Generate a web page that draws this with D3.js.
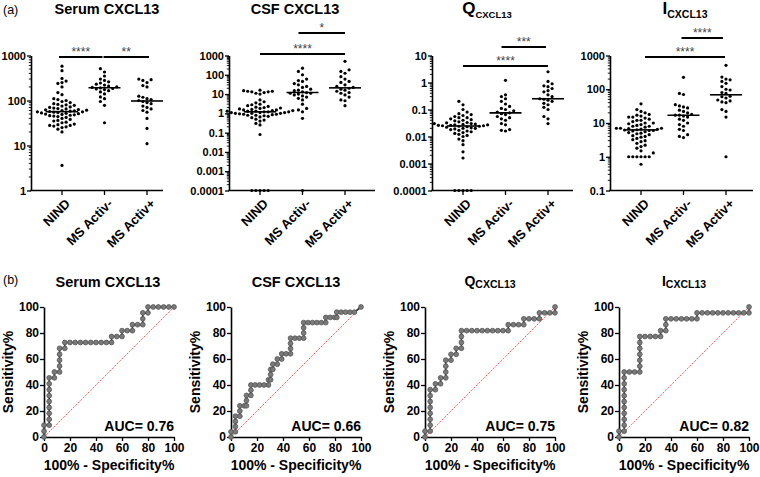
<!DOCTYPE html>
<html><head><meta charset="utf-8">
<script src="https://cdn.jsdelivr.net/npm/d3@7"></script>
<style>
body{margin:0;background:#fff}
svg{display:block;font-family:"Liberation Sans",Arial,Helvetica,sans-serif}
</style>
</head><body>
<svg id="chart" width="760" height="477"></svg>
<script>
// ---------------- DATA ----------------
const categories = ["NIND", "MS Activ-", "MS Activ+"];

// Serum CXCL13
const serumNIND = [580,460,310,270,250,240,200,150,135,110,105,100,95,90,85,82,80,78,75,72,70,68,66,65,63,62,61,60,59,58,57,56,56,55,54,53,52,51,50,49,48,47,46,45,44,42,40,38,36,35,33,32,30,29,28,28,27,26,25,23,20,3.6];
const serumActivMinus = [510,430,350,300,280,260,245,230,220,210,200,195,190,185,180,175,165,155,140,120,110,95,78,32];
const serumActivPlus = [300,290,280,250,215,200,125,118,110,105,100,95,90,85,75,70,65,60,55,40,24,11];

// CSF CXCL13
const csfNIND = [16,15,14,14,13,13,12,11,10,5,4,3.5,3,2.8,2.5,2.3,2.1,2,1.9,1.8,1.7,1.6,1.5,1.5,1.4,1.4,1.3,1.3,1.3,1.2,1.2,1.2,1.1,1.1,1.1,1.0,1.0,1.0,0.95,0.9,0.9,0.85,0.8,0.8,0.75,0.7,0.65,0.6,0.5,0.45,0.4,0.3,0.25,0.08,0.0001,0.0001,0.0001,0.0001,0.0001];
const csfActivMinus = [220,150,100,60,50,45,35,30,25,22,18,16,15,13,12,11,11,10,9,8,7,6,5,3,1.8,1.5,1.2,0.55,0.0001];
const csfActivPlus = [500,180,150,120,80,60,45,40,30,25,22,20,18,16,14,12,11,9,7,5,4.5,2.5];

// Q CXCL13
const qNIND = [0.2,0.15,0.1,0.08,0.07,0.065,0.06,0.055,0.05,0.05,0.045,0.042,0.04,0.038,0.035,0.033,0.032,0.03,0.03,0.029,0.028,0.027,0.027,0.026,0.026,0.025,0.025,0.024,0.024,0.023,0.022,0.021,0.02,0.02,0.019,0.018,0.017,0.016,0.015,0.014,0.013,0.012,0.011,0.01,0.008,0.007,0.005,0.0027,0.0016,0.0001,0.0001,0.0001,0.0001,0.0001];
const qActivMinus = [1.2,0.35,0.3,0.25,0.2,0.16,0.13,0.11,0.1,0.09,0.08,0.075,0.07,0.065,0.055,0.05,0.045,0.04,0.03,0.027,0.018,0.017,0.016];
const qActivPlus = [2.5,1.1,0.9,0.75,0.7,0.6,0.5,0.45,0.35,0.3,0.25,0.24,0.22,0.2,0.17,0.15,0.12,0.1,0.055,0.045,0.03];

// I CXCL13
const iNIND = [37,25,22,20,18,17,16,15,15,14,13,12,12,11,10,10,9.5,9,8.5,8,8,7.5,7,7,7,6.8,6.6,6.5,6.3,6.2,6,6,5.8,5.5,5.2,5,4.8,4.5,4.2,4,3.8,3.5,3.2,3,2.8,2.5,2.2,2,1.8,1.5,1.3,1,1,1,1,1,1,0.6];
const iActivMinus = [225,75,70,35,32,30,28,24,22,20,18,17,17,16,15,13,12,10,9,8,6.5,6,4.5,4,3.7];
const iActivPlus = [510,230,200,190,170,150,120,100,95,80,75,62,60,55,48,45,42,40,25,22,15,1];

// y tick values
const serumTicks = [1,10,100,1000];
const csfTicks = [0.0001,0.001,0.01,0.1,1,10,100,1000];
const qTicks = [0.0001,0.001,0.01,0.1,1,10];
const iTicks = [0.1,1,10,100,1000];

// significance annotations
const serumSig = [{from:"NIND",to:"MS Activ-",label:"****"},{from:"MS Activ-",to:"MS Activ+",label:"**"}];
const csfSig = [{from:"MS Activ-",to:"MS Activ+",label:"*"},{from:"NIND",to:"MS Activ+",label:"****"}];
const qSig = [{from:"MS Activ-",to:"MS Activ+",label:"***"},{from:"NIND",to:"MS Activ+",label:"****"}];
const iSig = [{from:"MS Activ-",to:"MS Activ+",label:"****"},{from:"NIND",to:"MS Activ+",label:"****"}];

// ROC curves: [100% - Specificity%, Sensitivity%]
const rocSerum = [[0,0],[0,4.5],[0,9.1],[4,9.1],[4,13.6],[4,18.2],[4,22.7],[4,27.3],[4,31.8],[4,36.4],[4,40.9],[4,45.5],[8,45.5],[8,50],[12,50],[12,54.5],[12,59.1],[12,63.6],[12,68.2],[16,68.2],[16,72.7],[20,72.7],[24,72.7],[28,72.7],[32,72.7],[36,72.7],[40,72.7],[44,72.7],[48,72.7],[52,72.7],[52,77.3],[56,77.3],[60,77.3],[60,81.8],[64,81.8],[68,81.8],[68,86.4],[72,86.4],[76,86.4],[76,90.9],[76,95.5],[80,95.5],[80,100],[84,100],[88,100],[92,100],[96,100],[100,100]];
const rocCSF = [[0,0],[0,4],[3.4,4],[3.4,8],[3.4,12],[3.4,16],[6.8,16],[6.8,20],[6.8,24],[10.2,24],[11.9,24],[11.9,28],[11.9,32],[15.3,32],[15.3,36],[15.3,40],[18.6,40],[22,40],[25.4,40],[28.8,40],[28.8,44],[30.5,44],[30.5,48],[30.5,52],[32.2,52],[32.2,56],[35.6,56],[35.6,60],[39,60],[39,64],[42.4,64],[45.8,64],[45.8,68],[45.8,72],[45.8,76],[49.2,76],[52.5,76],[55.9,76],[55.9,80],[55.9,84],[55.9,88],[59.3,88],[62.7,88],[66.1,88],[69.5,88],[72.9,88],[72.9,92],[76.3,92],[79.7,92],[81.4,92],[81.4,96],[84.7,96],[88.1,96],[91.5,96],[94.9,96],[100,100]];
const rocQ = [[0,0],[0,4.5],[4,4.5],[4,9.1],[4,13.6],[4,18.2],[4,22.7],[4,27.3],[4,31.8],[4,36.4],[8,36.4],[8,40.9],[12,40.9],[12,45.5],[16,45.5],[16,50],[16,54.5],[16,59.1],[20,59.1],[20,63.6],[24,63.6],[24,68.2],[28,68.2],[28,72.7],[28,77.3],[28,81.8],[32,81.8],[36,81.8],[40,81.8],[44,81.8],[48,81.8],[52,81.8],[56,81.8],[60,81.8],[64,81.8],[64,86.4],[68,86.4],[72,86.4],[76,86.4],[76,90.9],[80,90.9],[84,90.9],[88,90.9],[88,95.5],[92,95.5],[96,95.5],[100,95.5],[100,100]];
const rocI = [[0,0],[0,4.5],[4,4.5],[4,9.1],[4,13.6],[4,18.2],[4,22.7],[4,27.3],[4,31.8],[4,36.4],[4,40.9],[4,45.5],[4,50],[8,50],[12,50],[16,50],[16,54.5],[16,59.1],[16,63.6],[16,68.2],[16,72.7],[16,77.3],[20,77.3],[24,77.3],[28,77.3],[32,77.3],[32,81.8],[36,81.8],[36,86.4],[36,90.9],[40,90.9],[44,90.9],[48,90.9],[52,90.9],[56,90.9],[60,90.9],[60,95.5],[64,95.5],[68,95.5],[72,95.5],[76,95.5],[80,95.5],[84,95.5],[88,95.5],[92,95.5],[96,95.5],[100,95.5],[100,100]];
const aucLabels = ["AUC= 0.76","AUC= 0.66","AUC= 0.75","AUC= 0.82"];
const rocTicks = [0,20,40,60,80,100];

// titles: [main, subscript]
const titles = [["Serum CXCL13",""],["CSF CXCL13",""],["Q","CXCL13"],["I","CXCL13"]];

// ---------------- LAYOUT ----------------
const svg = d3.select("#chart");
const FONT = '"Liberation Sans",Arial,Helvetica,sans-serif';
const topPanels = [
  {data:[serumNIND,serumActivMinus,serumActivPlus], ticks:serumTicks, sig:serumSig},
  {data:[csfNIND,csfActivMinus,csfActivPlus], ticks:csfTicks, sig:csfSig},
  {data:[qNIND,qActivMinus,qActivPlus], ticks:qTicks, sig:qSig},
  {data:[iNIND,iActivMinus,iActivPlus], ticks:iTicks, sig:iSig}
];
const topLayout = [
  {ax:31, xLen:132, bars:[{y:57,pad:[3,-2]},{y:57,pad:[1,2]}], tx:107},
  {ax:229, xLen:146, bars:[{y:33,pad:[4,0]},{y:54,pad:[0,0]}], tx:295},
  {ax:432, xLen:141, bars:[{y:47,pad:[4,-2]},{y:66,pad:[0,0]}], tx:487},
  {ax:610, xLen:143, bars:[{y:38,pad:[2,-3]},{y:57,pad:[-4,-1]}], tx:685}
];
const TOP_Y0 = 190.5, TOP_Y1 = 55.5;
const R = 1.6;

function drawTitle(g, t, cx, cy, mainSize, subSize, subDy) {
  const txt = g.append("text").attr("x", cx).attr("y", cy).attr("text-anchor","middle")
    .attr("font-weight","bold").attr("font-family",FONT).attr("fill","#000");
  txt.append("tspan").attr("font-size", mainSize).text(t[0]);
  if (t[1]) txt.append("tspan").attr("font-size", subSize).attr("dy", subDy).text(t[1]);
}

svg.append("text").attr("x",3).attr("y",14).attr("font-size",12.5).attr("font-family",FONT).text("(a)");
svg.append("text").attr("x",3).attr("y",284).attr("font-size",12.5).attr("font-family",FONT).text("(b)");

topPanels.forEach((p, i) => {
  const L = topLayout[i];
  const g = svg.append("g");
  const y = d3.scaleLog().domain([p.ticks[0], p.ticks[p.ticks.length-1]]).range([TOP_Y0, TOP_Y1]);
  const x = d3.scalePoint().domain(categories).range([L.ax+31, L.ax+116]);

  if (titles[i][1]) drawTitle(g, titles[i], L.tx, 14, 17, i===2?9.5:10.5, 4);
  else drawTitle(g, titles[i], L.tx, 14, 14.5, 0, 0);

  const ya = g.append("g").attr("transform",`translate(${L.ax},0)`)
    .call(d3.axisLeft(y).tickValues(p.ticks).tickFormat(d => String(d)).tickSize(4).tickSizeOuter(0).tickPadding(1));
  ya.select(".domain").attr("stroke","#000").attr("stroke-width",1.6);
  ya.selectAll(".tick line").attr("stroke","#000").attr("stroke-width",1.3);
  ya.selectAll(".tick text").attr("font-size",11).attr("font-weight","bold").attr("font-family",FONT).attr("fill","#000");
  const minors = [];
  for (let k = 0; k < p.ticks.length-1; k++) for (let m = 2; m <= 9; m++) minors.push(p.ticks[k]*m);
  g.selectAll(null).data(minors).join("line")
    .attr("x1", L.ax-2.2).attr("x2", L.ax).attr("y1", d => y(d)).attr("y2", d => y(d))
    .attr("stroke","#000").attr("stroke-width",0.9);

  g.append("line").attr("x1",L.ax-0.8).attr("x2",L.ax+L.xLen).attr("y1",TOP_Y0).attr("y2",TOP_Y0)
    .attr("stroke","#000").attr("stroke-width",1.6);
  g.selectAll(null).data(categories).join("line")
    .attr("x1", d => x(d)).attr("x2", d => x(d)).attr("y1",TOP_Y0).attr("y2",TOP_Y0+4.5)
    .attr("stroke","#000").attr("stroke-width",1.3);
  g.selectAll(null).data(categories).join("text")
    .attr("transform", d => `translate(${x(d)+9},${TOP_Y0+14}) rotate(-45)`)
    .attr("text-anchor","end").attr("font-size",13).attr("font-weight","bold").attr("font-family",FONT)
    .attr("fill","#000").text(d => d);

  p.data.forEach((vals, ci) => {
    const cx = x(categories[ci]);
    const pts = vals.map(v => ({v, y: y(v)})).sort((a,b) => b.y - a.y);
    const placed = [];
    const dx = 2*R + 0.9;
    pts.forEach(pt => {
      for (let k = 0; k < 40; k++) {
        const off = (k % 2 === 0 ? 1 : -1) * Math.ceil(k/2) * dx;
        const px = cx + off;
        const hit = placed.some(q => Math.hypot(q.x - px, q.y - pt.y) < 2*R + 0.7);
        if (!hit) { pt.x = px; placed.push(pt); break; }
      }
    });
    g.selectAll(null).data(placed).join("circle")
      .attr("cx", d => d.x).attr("cy", d => d.y).attr("r", R).attr("fill","#000");
    const med = d3.median(vals);
    g.append("line").attr("x1",cx-16).attr("x2",cx+16).attr("y1",y(med)).attr("y2",y(med))
      .attr("stroke","#000").attr("stroke-width",1.6);
  });

  p.sig.forEach((s, si) => {
    const b = L.bars[si];
    const x1 = x(s.from) - b.pad[0], x2 = x(s.to) + b.pad[1];
    g.append("line").attr("x1",x1).attr("x2",x2).attr("y1",b.y).attr("y2",b.y)
      .attr("stroke","#000").attr("stroke-width",2);
    g.append("text").attr("x",(x1+x2)/2).attr("y",b.y-1.5).attr("text-anchor","middle")
      .attr("font-size",12).attr("font-family",FONT).attr("fill","#444").text(s.label);
  });
});

// ---------------- ROC ----------------
const rocData = [rocSerum, rocCSF, rocQ, rocI];
const rocAx = [44, 231, 425, 619];
const rocTitleX = [108, 296, 490, 684];
const RY0 = 437, RY1 = 307, RW = 130;

rocData.forEach((pts, i) => {
  const ax = rocAx[i];
  const g = svg.append("g");
  const x = d3.scaleLinear().domain([0,100]).range([ax, ax+RW]);
  const y = d3.scaleLinear().domain([0,100]).range([RY0, RY1]);

  if (titles[i][1]) drawTitle(g, titles[i], rocTitleX[i], 286, 14, 10.5, 2);
  else drawTitle(g, titles[i], rocTitleX[i], 287, 14.5, 0, 0);

  // diagonal reference line (chance)
  g.append("line").attr("x1", x(0)).attr("y1", y(0)).attr("x2", x(100)).attr("y2", y(100))
    .attr("stroke","rgb(255,60,60)").attr("stroke-width",1).attr("stroke-dasharray","1.2,1.2");

  const xa = g.append("g").attr("transform",`translate(0,${RY0})`)
    .call(d3.axisBottom(x).tickValues(rocTicks).tickSize(4).tickSizeOuter(0).tickPadding(2));
  const yaxis = g.append("g").attr("transform",`translate(${ax},0)`)
    .call(d3.axisLeft(y).tickValues(rocTicks).tickSize(4).tickSizeOuter(0).tickPadding(1));
  [xa, yaxis].forEach(a => {
    a.select(".domain").attr("stroke","#000").attr("stroke-width",1.6);
    a.selectAll(".tick line").attr("stroke","#000").attr("stroke-width",1.3);
    a.selectAll(".tick text").attr("font-size",12).attr("font-weight","bold").attr("font-family",FONT).attr("fill","#000");
  });

  const line = d3.line().x(d => x(d[0])).y(d => y(d[1]));
  g.append("path").datum(pts).attr("d", line).attr("fill","none").attr("stroke","#333").attr("stroke-width",1.6);
  g.selectAll(null).data(pts).join("circle")
    .attr("cx", d => x(d[0])).attr("cy", d => y(d[1])).attr("r", 2.4)
    .attr("fill","#7a7a7a").attr("stroke","#555").attr("stroke-width",0.8);

  g.append("text").attr("x", x(100)).attr("y", 431).attr("text-anchor","end")
    .attr("font-size",14).attr("font-weight","bold").attr("font-family",FONT).attr("fill","#000").text(aucLabels[i]);

  g.append("text").attr("transform",`translate(${ax-31},${(RY0+RY1)/2}) rotate(-90)`)
    .attr("text-anchor","middle").attr("font-size",14).attr("font-weight","bold").attr("font-family",FONT)
    .attr("fill","#000").text("Sensitivity%");
  g.append("text").attr("x", ax+RW/2).attr("y", 470).attr("text-anchor","middle")
    .attr("font-size",14).attr("font-weight","bold").attr("font-family",FONT)
    .attr("fill","#000").text("100% - Specificity%");
});
</script>
</body></html>
